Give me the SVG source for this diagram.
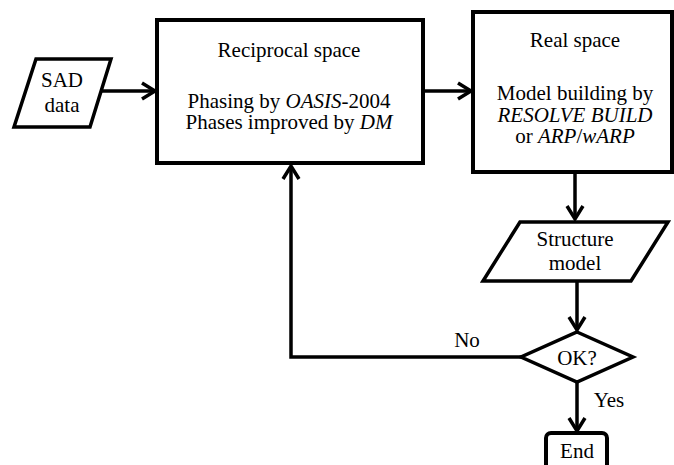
<svg xmlns="http://www.w3.org/2000/svg" width="674" height="465" viewBox="0 0 674 465" font-family="'Liberation Serif', 'DejaVu Serif', serif" font-size="21">
<style>
text{font-family:'Liberation Serif','DejaVu Serif',serif;font-size:21px;fill:#000;text-anchor:middle}
.it{font-style:italic}
.box{fill:#fff;stroke:#000;stroke-width:4}
.shape{fill:#fff;stroke:#000;stroke-width:3.5;stroke-linejoin:miter}
.con{fill:none;stroke:#000;stroke-width:3.5}
</style>
<defs>
<marker id="arr" markerUnits="userSpaceOnUse" markerWidth="20" markerHeight="20" refX="15" refY="9" orient="auto" overflow="visible">
<path d="M2,1 L15,9 L2,17" fill="none" stroke="#000" stroke-width="3.5"/>
</marker>
</defs>
<rect width="674" height="465" fill="#fff"/>
<g id="connectors">
<line class="con" x1="98" y1="91" x2="155" y2="91" marker-end="url(#arr)"/>
<line class="con" x1="423" y1="91" x2="471" y2="91" marker-end="url(#arr)"/>
<line class="con" x1="575" y1="172" x2="575" y2="219" marker-end="url(#arr)"/>
<line class="con" x1="577" y1="282" x2="577" y2="330" marker-end="url(#arr)"/>
<line class="con" x1="577" y1="382" x2="577" y2="431" marker-end="url(#arr)"/>
<polyline class="con" points="522,357 291,357 291,166" marker-end="url(#arr)"/>
<text x="467" y="347">No</text>
<text x="609" y="407">Yes</text>
</g>
<g id="sad">
<polygon class="shape" points="36,59 111,59 90,127 14,127"/>
<text x="62" y="87">SAD</text>
<text x="62" y="112">data</text>
</g>
<g id="reciprocal">
<rect class="box" x="157" y="20" width="266" height="143"/>
<text x="289" y="57">Reciprocal space</text>
<text x="289" y="108">Phasing by <tspan class="it">OASIS</tspan>-2004</text>
<text x="289" y="129">Phases improved by <tspan class="it">DM</tspan></text>
</g>
<g id="real">
<rect class="box" x="473" y="12" width="199" height="160"/>
<text x="575" y="47">Real space</text>
<text x="575" y="100">Model building by</text>
<text x="575" y="122" class="it">RESOLVE BUILD</text>
<text x="575" y="143">or <tspan class="it">ARP</tspan>/<tspan class="it">wARP</tspan></text>
</g>
<g id="structure">
<polygon class="shape" points="520,222 668,222 631,281 483,281"/>
<text x="575" y="246">Structure</text>
<text x="575" y="270">model</text>
</g>
<g id="ok">
<polygon class="shape" points="577,332 633,357 577,382 521,357"/>
<text x="577" y="365">OK?</text>
</g>
<g id="end">
<rect class="box" x="546" y="433" width="61" height="44" rx="5"/>
<text x="577" y="458">End</text>
</g>
</svg>
